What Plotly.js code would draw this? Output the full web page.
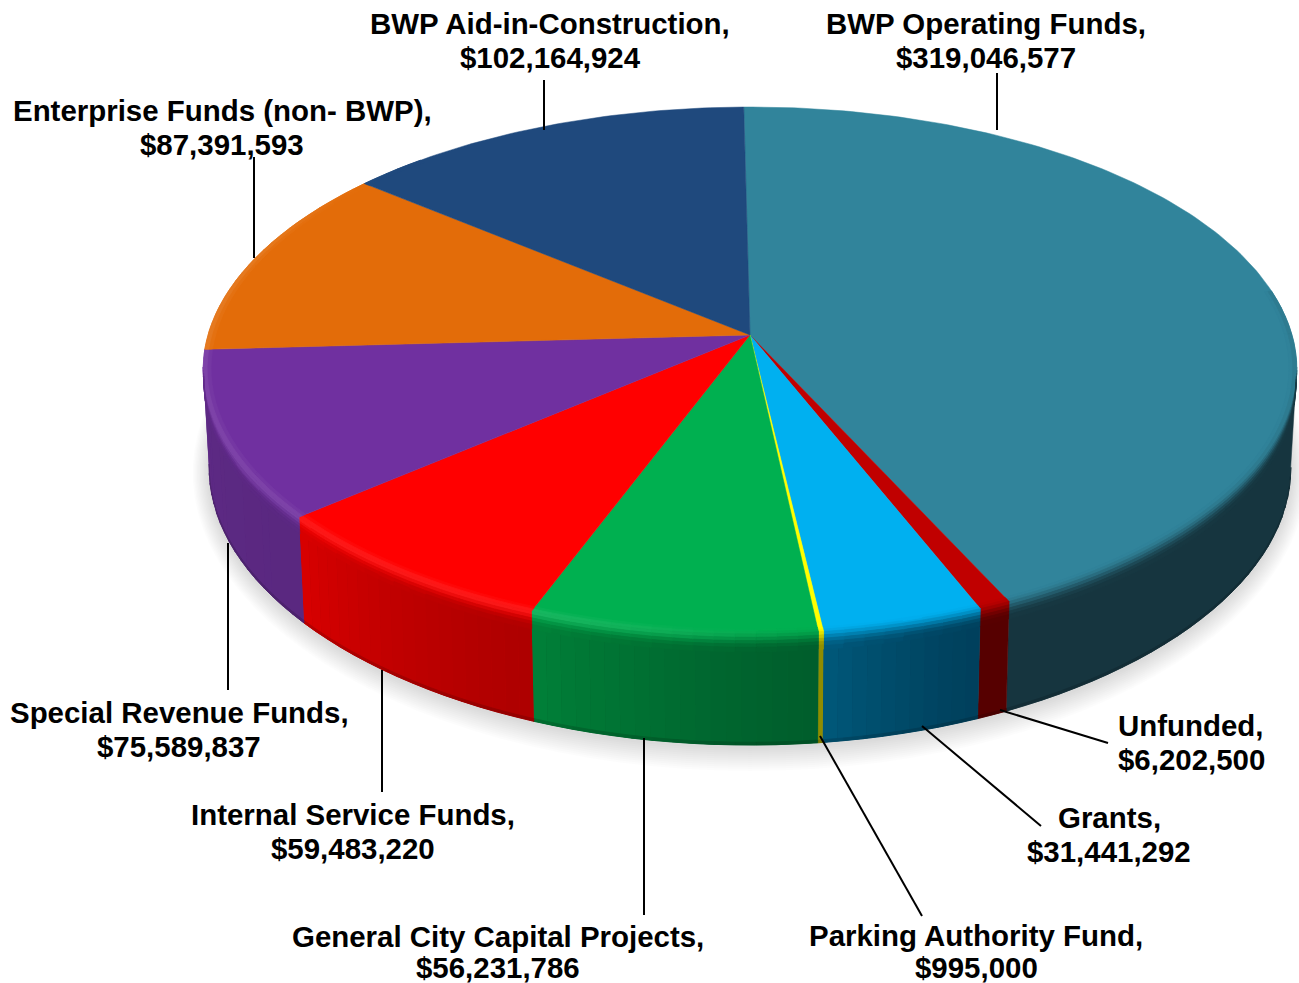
<!DOCTYPE html>
<html><head><meta charset="utf-8">
<script src="https://cdn.plot.ly/plotly-3.0.1.min.js"></script>
<style>html,body{margin:0;padding:0;background:#fff}#c{width:1299px;height:983px}</style>
</head><body><div id="c"></div>
<script>
// ---------- data (clockwise from the top) ----------
const categories = ["BWP Operating Funds,","Unfunded,","Grants,","Parking Authority Fund,","General City Capital Projects,","Internal Service Funds,","Special Revenue Funds,","Enterprise Funds (non- BWP),","BWP Aid-in-Construction,"];
const amounts = [319046577,6202500,31441292,995000,56231786,59483220,75589837,87391593,102164924];
// ---------- styles ----------
const topColors = ["#31849B","#C00000","#00B0F0","#FFFF00","#00B050","#FF0000","#7030A0","#E36C09","#1F497D"];
const wallRight = ["#16353F","#560000","#00405C","#8F8C00","#005E2C","#AE0000","#5A2880","#8A4205","#12294A"];
const wallLeft  = ["#16353F","#560000","#00587A","#8F8C00","#008038","#D80000","#5E2A86","#8A4205","#12294A"];
const labelCx = [985.5,1191,1109,976,498,353,179,222,550];
const labelY1 = [23,725,817,935,936,814,712,110,23];
const labelY2 = [57,759,851,967,967,848,746,144,57];
const leaders = [[997,73,997,130],[1000,710,1108,743],[922,726,1041,826],[820,736,922,916],[644,738,644,915],[382,670,382,792],[228,543,228,690],[254,157,254,258],[544,80,544,130]];
// ---------- projection of the disc (perspective) ----------
const CX=750, TOPY=335, A=542, B=258.7, P=-0.1347, BOTY=433, A2=536, B2=270, START=-0.75, WARP=0.019;
const rad=d=>d*Math.PI/180;
const warp=v=>v>0?1-WARP*v*v:1;
function topPt(th,r){const u=r*Math.sin(rad(th)),v=-r*Math.cos(rad(th)),w=1+P*v;return [CX+A*u*warp(v)/w,TOPY+B*v/w];}
function botPt(th){const u=Math.sin(rad(th)),v=-Math.cos(rad(th)),w=1+P*v;return [CX+A2*u*warp(v)/w,BOTY+B2*v/w];}
function wallPt(th,s){const a=topPt(th,1),b=botPt(th);return [a[0]+(b[0]-a[0])*s,a[1]+(b[1]-a[1])*s];}
// ---------- colour helpers ----------
const h2r=h=>[1,3,5].map(i=>parseInt(h.substr(i,2),16));
const r2h=c=>"#"+c.map(x=>Math.max(0,Math.min(255,Math.round(x))).toString(16).padStart(2,"0")).join("");
const mix=(a,b,t)=>{const x=h2r(a),y=h2r(b);return r2h(x.map((v,i)=>v+(y[i]-v)*t));};
const sstep=(a,b,x)=>{const t=Math.max(0,Math.min(1,(x-a)/(b-a)));return t*t*(3-2*t);};
const GAMMA=1.3;
// ---------- angles ----------
const total=amounts.reduce((a,b)=>a+b,0);
let cum=START; const angA=[],angB=[];
amounts.forEach(v=>{angA.push(cum);cum+=v/total*360;angB.push(cum);});
// ---------- polygon groups ----------
const groups=new Map();
function poly(col,pts){if(!groups.has(col))groups.set(col,{x:[],y:[]});const g=groups.get(col);
  pts.forEach(p=>{g.x.push(p[0]);g.y.push(p[1]);});g.x.push(pts[0][0],null);g.y.push(pts[0][1],null);}
function flush(traces,w){groups.forEach((g,col)=>traces.push({type:"scatter",mode:"lines",x:g.x,y:g.y,fill:"toself",fillcolor:col,line:{color:col,width:w},hoverinfo:"skip",showlegend:false}));groups.clear();}
function steps(a,b,d){const o=[a];let n=Math.max(1,Math.ceil((b-a)/d));for(let i=1;i<=n;i++)o.push(a+(b-a)*i/n);return o;}
const traces=[];
// shadow
for(let k=24;k>=2;k-=2){const pts=[];for(let th=0;th<360;th+=3){const b=botPt(th);pts.push([b[0]+0.7*k*Math.sin(rad(th)),b[1]+2+k*(-Math.cos(rad(th)))]);}
  pts.push(pts[0]);traces.push({type:"scatter",mode:"lines",x:pts.map(p=>p[0]),y:pts.map(p=>p[1]),fill:"toself",fillcolor:"rgba(0,0,0,0.011)",line:{width:0},hoverinfo:"skip",showlegend:false});}
// wall profile
const pos=[{r:0.986,k:0,kd:0,h:0},{r:0.993,k:0,kd:0.05,h:.6},{r:1,k:0,kd:.18,h:1},{s:.03,k:.12,kd:.4,h:.7},{s:.06,k:.4,kd:.65,h:.2},{s:.09,k:.7,kd:.85,h:0},{s:.12,k:.9,kd:.96,h:0},{s:.16,k:1,kd:1,h:0},{s:.975,k:1,kd:1,h:0,b:0},{s:1,k:1,kd:1,h:0,b:.3}];
const pt=(p,th)=>p.r!==undefined?topPt(th,p.r):wallPt(th,p.s);
const WALL_A=97, WALL_B=263;
// flat base under each wall, so seams between gradient strips show nothing
amounts.forEach((v,i)=>{
  const a=Math.max(angA[i],WALL_A),b=Math.min(angB[i],WALL_B);
  if(a>=b)return;
  const ss=steps(a,b,2);
  poly(mix(wallRight[i],wallLeft[i],.3),[...ss.map(th=>wallPt(th,0)),...ss.slice().reverse().map(th=>botPt(th))]);
  flush(traces,0.5);
});
amounts.forEach((v,i)=>{
  const a=Math.max(angA[i],WALL_A),b=Math.min(angB[i],WALL_B);
  if(a>=b||wallRight[i]===wallLeft[i])return;
  const ss=steps(a,b,1.5);
  for(let j=0;j<ss.length-1;j++){
    const m=(ss[j]+ss[j+1])/2,t=(m-angA[i])/(angB[i]-angA[i]);
    const wc=mix(wallRight[i],wallLeft[i],Math.pow(t,GAMMA));
    poly(wc,[...[ss[j],ss[j+1]].map(th=>wallPt(th,0)),...[ss[j+1],ss[j]].map(th=>botPt(th))]);
  }
});
flush(traces,0);
// top wedges
amounts.forEach((v,i)=>{const pts=[[CX,TOPY]];steps(angA[i],angB[i],1).forEach(th=>pts.push(topPt(th,1)));poly(topColors[i],pts);flush(traces,0.5);});
// bevel bands over the rim and wall
amounts.forEach((v,i)=>{
  const a=Math.max(angA[i],80),b=Math.min(angB[i],318);
  if(a>=b)return;
  const ss=steps(a,b,2);
  for(let j=0;j<ss.length-1;j++){
    const m=(ss[j]+ss[j+1])/2,t=(m-angA[i])/(angB[i]-angA[i]);
    const wc=mix(wallRight[i],wallLeft[i],Math.pow(t,GAMMA));
    const hl=sstep(168,205,m)*(1-sstep(285,316,m))*0.11;
    const dark=1-sstep(165,200,m);
    const back=m<WALL_A||m>WALL_B;
    for(let q=0;q<pos.length-1;q++){
      const p0=pos[q],p1=pos[q+1];
      if(back&&p1.r===undefined)break;
      if(q===7)continue;
      const midK=(p0.k+p1.k)/2*(1-dark)+(p0.kd+p1.kd)/2*dark;
      const midH=(p0.h+p1.h)/2*hl;
      let col=mix(mix(topColors[i],wc,midK),"#FFFFFF",midH);
      if(p1.b!==undefined)col=mix(col,"#000000",(p0.b+p1.b)/2);
      poly(col,[pt(p0,ss[j]),pt(p0,ss[j+1]),pt(p1,ss[j+1]),pt(p1,ss[j])]);
    }
  }
  flush(traces,0.8);
});
// leader lines
const shapes=leaders.map(l=>({type:"line",xref:"x",yref:"y",x0:l[0],y0:l[1],x1:l[2],y1:l[3],line:{color:"#000",width:2}}));
// labels
const font={family:"Liberation Sans, Arial, sans-serif",size:29.45,color:"#000"};
const annotations=[];
categories.forEach((c,i)=>{
  const money="$"+amounts[i].toLocaleString("en-US");
  [[c,labelY1[i]],[money,labelY2[i]]].forEach(([txt,y])=>annotations.push({xref:"x",yref:"y",x:labelCx[i],y:y,text:"<b>"+txt+"</b>",showarrow:false,xanchor:"center",yanchor:"middle",font:font}));
});
Plotly.newPlot("c",traces,{width:1299,height:983,margin:{l:0,r:0,t:0,b:0,pad:0},paper_bgcolor:"#fff",plot_bgcolor:"#fff",showlegend:false,hovermode:false,
  xaxis:{range:[0,1299],visible:false,fixedrange:true},yaxis:{range:[983,0],visible:false,fixedrange:true},shapes:shapes,annotations:annotations},{displayModeBar:false,staticPlot:true});
</script></body></html>
